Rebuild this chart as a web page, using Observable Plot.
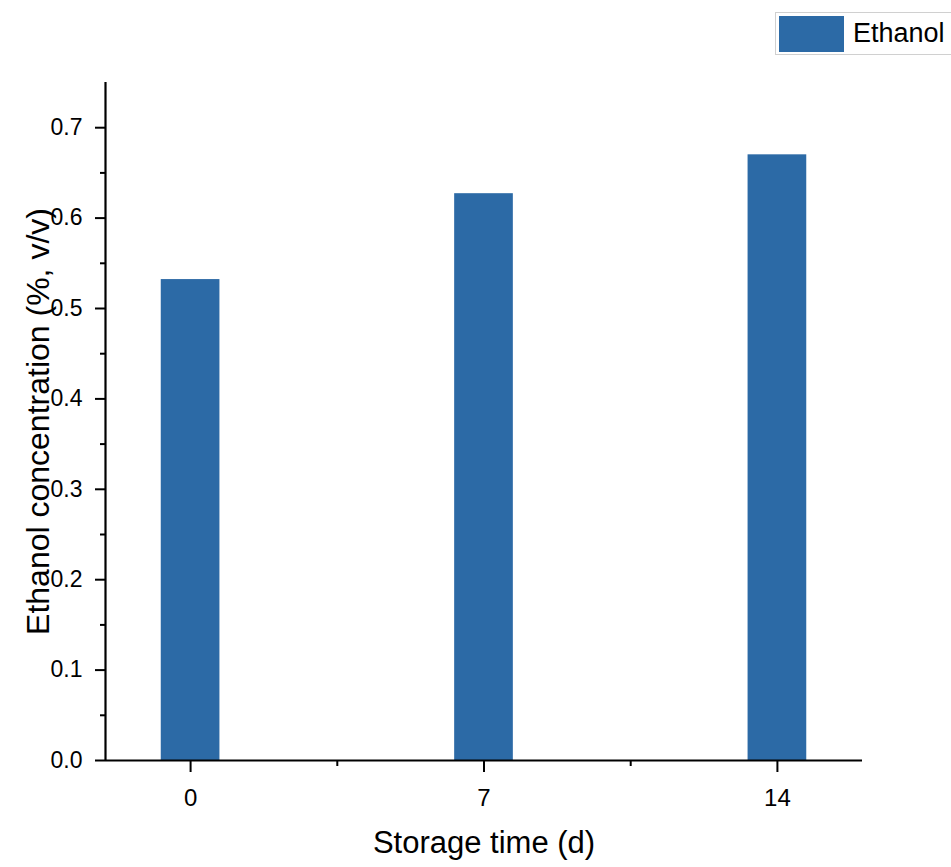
<!DOCTYPE html>
<html>
<head>
<meta charset="utf-8">
<script src="https://cdn.jsdelivr.net/npm/d3@7"></script>
<script src="https://cdn.jsdelivr.net/npm/@observablehq/plot@0.6"></script>
<style>
  html, body { margin: 0; padding: 0; background: #fff; overflow: hidden; }
  body { width: 951px; height: 867px; font-family: "Liberation Sans", Arial, sans-serif; }
  #legend { position: relative; height: 60px; width: 951px; }
  #legend .frame { position: absolute; left: 775px; top: 12px; width: 200px; height: 41px; border: 1px solid #d0d0d0; }
  #legend .swatch { position: absolute; left: 3px; top: 3px; width: 65px; height: 36px; }
  #legend .lab { position: absolute; left: 77px; top: 0; height: 41px; line-height: 41px; font-size: 27px; color: #000; }
</style>
</head>
<body>
<div id="legend"></div>
<div id="chart"></div>
<script>
// ---- data ----
const days = ["0", "7", "14"];
const ethanol = [0.532, 0.627, 0.670];
const seriesName = "Ethanol";
const yTicks = [0, 0.1, 0.2, 0.3, 0.4, 0.5, 0.6, 0.7];
const yMinorTicks = [0.05, 0.15, 0.25, 0.35, 0.45, 0.55, 0.65];
const xMinorTicks = [0.5, 1.5];
const xTitle = "Storage time (d)";
const yTitle = "Ethanol concentration (%, v/v)";

const barColor = "#2c6aa6";
const xDomain = [-0.29, 2.29];
const barHalf = 0.1;

const data = days.map((d, i) => ({i, day: d, value: ethanol[i]}));

// legend
const lg = document.getElementById("legend");
const fr = document.createElement("div"); fr.className = "frame";
const sw = document.createElement("div"); sw.className = "swatch"; sw.style.background = barColor;
const lb = document.createElement("div"); lb.className = "lab"; lb.textContent = seriesName;
fr.appendChild(sw); fr.appendChild(lb); lg.appendChild(fr);

const chart = Plot.plot({
  width: 951,
  height: 807,
  marginTop: 22,
  marginBottom: 107,
  marginLeft: 105,
  marginRight: 89,
  style: {fontFamily: "Liberation Sans, Arial, sans-serif", background: "#fff", color: "#000"},
  x: {type: "linear", domain: xDomain},
  y: {domain: [0, 0.75]},
  marks: [
    Plot.rectY(data, {x1: d => d.i - barHalf, x2: d => d.i + barHalf, y1: 0, y2: "value", fill: barColor}),
    Plot.axisX({ticks: [0, 1, 2], tickFormat: i => days[i], tickSize: 12, tickPadding: 16, fontSize: 24, strokeWidth: 2, label: null}),
    Plot.axisX({ticks: xMinorTicks, tickFormat: () => "", tickSize: 6, strokeWidth: 2, label: null}),
    Plot.axisY({ticks: yTicks, tickFormat: d3.format(".1f"), tickSize: 10, tickPadding: 13, fontSize: 23, strokeWidth: 2, label: null}),
    Plot.axisY({ticks: yMinorTicks, tickFormat: () => "", tickSize: 5, strokeWidth: 2, label: null}),
    Plot.ruleY([0], {stroke: "#000", strokeWidth: 2.2}),
    Plot.ruleX([xDomain[0]], {stroke: "#000", strokeWidth: 2.2}),
    Plot.text([xTitle], {frameAnchor: "bottom", lineAnchor: "middle", textAnchor: "middle", dy: 83, fontSize: 31, fill: "#000"}),
    Plot.text([yTitle], {frameAnchor: "left", lineAnchor: "middle", textAnchor: "middle", dx: -67, rotate: -90, fontSize: 32, fill: "#000"})
  ]
});
document.getElementById("chart").appendChild(chart);
</script>
</body>
</html>
